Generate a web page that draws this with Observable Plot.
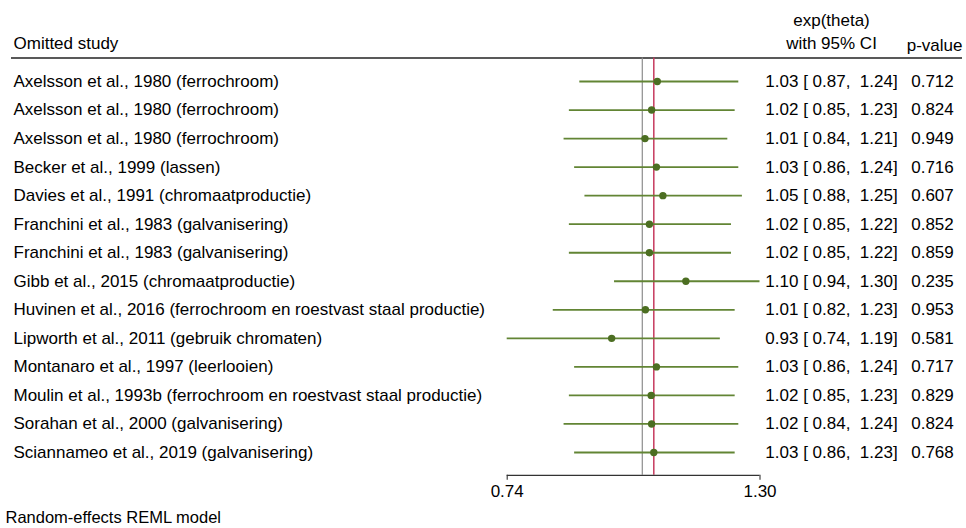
<!DOCTYPE html>
<html>
<head>
<meta charset="utf-8">
<script src="https://cdn.jsdelivr.net/npm/d3@7"></script>
<script src="https://cdn.jsdelivr.net/npm/@observablehq/plot@0.6"></script>
<style>
  html, body { margin: 0; padding: 0; background: #fff; }
  #chart svg { display: block; }
</style>
</head>
<body>
<div id="chart"></div>
<script>
// ---- data ----
const studies = [
  "Axelsson et al., 1980 (ferrochroom)",
  "Axelsson et al., 1980 (ferrochroom)",
  "Axelsson et al., 1980 (ferrochroom)",
  "Becker et al., 1999 (lassen)",
  "Davies et al., 1991 (chromaatproductie)",
  "Franchini et al., 1983 (galvanisering)",
  "Franchini et al., 1983 (galvanisering)",
  "Gibb et al., 2015 (chromaatproductie)",
  "Huvinen et al., 2016 (ferrochroom en roestvast staal productie)",
  "Lipworth et al., 2011 (gebruik chromaten)",
  "Montanaro et al., 1997 (leerlooien)",
  "Moulin et al., 1993b (ferrochroom en roestvast staal productie)",
  "Sorahan et al., 2000 (galvanisering)",
  "Sciannameo et al., 2019 (galvanisering)"
];
const estimate = [1.034, 1.021, 1.006, 1.032, 1.047, 1.016, 1.016, 1.102, 1.007, 0.934, 1.032, 1.020, 1.021, 1.026];
const lower    = [0.87, 0.85, 0.84, 0.86, 0.88, 0.85, 0.85, 0.94, 0.82, 0.74, 0.86, 0.85, 0.84, 0.86];
const upper    = [1.24, 1.23, 1.21, 1.24, 1.25, 1.22, 1.22, 1.30, 1.23, 1.19, 1.24, 1.23, 1.24, 1.23];
const pvalues  = ["0.712", "0.824", "0.949", "0.716", "0.607", "0.852", "0.859", "0.235", "0.953", "0.581", "0.717", "0.829", "0.824", "0.768"];
const overall = 1.026;
const nullValue = 1;
const xTicks = [0.74, 1.30];
const headers = {study: "Omitted study", est1: "exp(theta)", est2: "with 95% CI", p: "p-value"};
const footer = "Random-effects REML model";

// ---- build rows ----
const f2 = d3.format(".2f");
const sp = "\u00a0";
const rows = studies.map((s, i) => ({
  i, study: s, est: estimate[i], lo: lower[i], hi: upper[i], p: pvalues[i],
  ci: `${f2(estimate[i])} [${sp}${f2(lower[i])},${sp}${sp}${f2(upper[i])}]`
}));
const n = rows.length;
const axisPos = 13.8;             // y position (row units) of the x axis
const topLine = -0.823;           // header separator
const font = "'Liberation Sans', Arial, Helvetica, sans-serif";
const fs = 17;
const ciCenter = -135;            // offset from right edge for the CI column centre
const pCenter = -34;

const chart = Plot.plot({
  width: 966,
  height: 528,
  margin: 0,
  style: {fontFamily: font, fontSize: fs + "px", background: "#fff", color: "#000"},
  x: {type: "log", domain: [0.74, 1.30], range: [506.7, 759.5], axis: null},
  y: {type: "linear", domain: [0, n - 1], range: [81, 452], axis: null},
  marks: [
    // header separator
    Plot.ruleY([topLine], {stroke: "#222", strokeWidth: 1.3, insetLeft: 11, insetRight: 4}),
    // reference lines
    Plot.ruleX([nullValue], {y1: topLine, y2: axisPos, stroke: "#8c8c8c", strokeWidth: 1.2}),
    Plot.ruleX([overall], {y1: topLine, y2: axisPos, stroke: "#c63a5e", strokeWidth: 1.5}),
    // CI lines and points
    Plot.ruleY(rows, {y: "i", x1: "lo", x2: "hi", stroke: "#628534", strokeWidth: 1.8}),
    Plot.dot(rows, {x: "est", y: "i", r: 3.7, fill: "#4c6e22", stroke: "none"}),
    // axis
    Plot.ruleY([axisPos], {x1: xTicks[0], x2: xTicks[1], stroke: "#333", strokeWidth: 1.1}),
    Plot.ruleX(xTicks, {x: d => d, y1: axisPos, y2: axisPos + 0.175, stroke: "#333", strokeWidth: 1.1}),
    Plot.text(xTicks, {x: d => d, y: axisPos + 0.57, text: d => f2(d), fill: "#000", fontSize: fs}),
    // left labels
    Plot.text(rows, {y: "i", frameAnchor: "left", dx: 13, textAnchor: "start", text: "study", fill: "#000", fontSize: fs}),
    // CI and p columns
    Plot.text(rows, {y: "i", frameAnchor: "right", dx: ciCenter, textAnchor: "middle", text: "ci", fill: "#000", fontSize: fs}),
    Plot.text(rows, {y: "i", frameAnchor: "right", dx: pCenter, textAnchor: "middle", text: "p", fill: "#000", fontSize: fs}),
    // headers
    Plot.text([headers.study], {y: -1.34, frameAnchor: "left", dx: 13, textAnchor: "start", fill: "#000", fontSize: fs}),
    Plot.text([headers.est1], {y: -2.14, frameAnchor: "right", dx: ciCenter, textAnchor: "middle", fill: "#000", fontSize: fs}),
    Plot.text([headers.est2], {y: -1.33, frameAnchor: "right", dx: ciCenter, textAnchor: "middle", fill: "#000", fontSize: fs}),
    Plot.text([headers.p], {y: -1.26, frameAnchor: "right", dx: -4, textAnchor: "end", fill: "#000", fontSize: fs}),
    // footer
    Plot.text([footer], {y: 15.28, frameAnchor: "left", dx: 5, textAnchor: "start", fill: "#000", fontSize: 16.5})
  ]
});
document.getElementById("chart").appendChild(chart);
</script>
</body>
</html>
